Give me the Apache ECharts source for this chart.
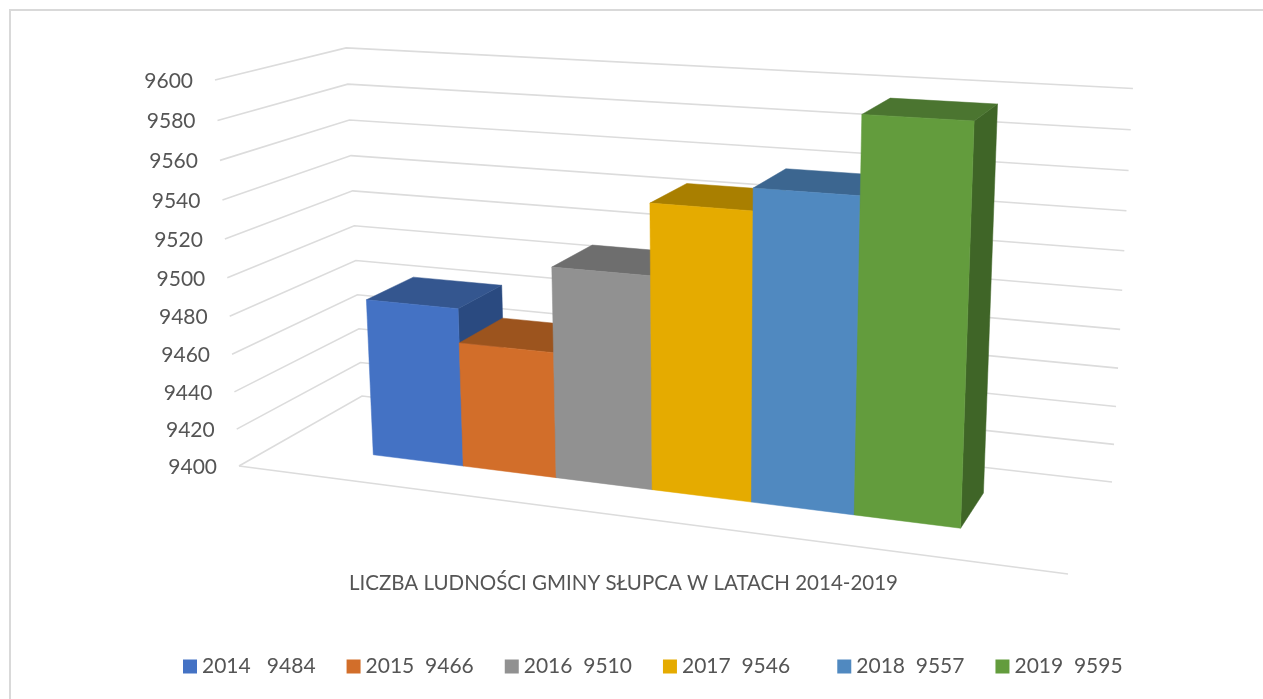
<!DOCTYPE html>
<html><head><meta charset="utf-8">
<style>html,body{margin:0;padding:0;background:#fff}#c{width:1263px;height:699px}</style>
<script src="https://cdn.jsdelivr.net/npm/echarts@6/dist/echarts.min.js"></script>
</head><body><div id="c"></div>
<script>
const years = ['2014','2015','2016','2017','2018','2019'];
const populations = [9484,9466,9510,9546,9557,9595];
const legendNames = ['2014   9484','2015  9466','2016  9510','2017  9546   ','2018  9557','2019  9595'];
const valueTicks = [9400,9420,9440,9460,9480,9500,9520,9540,9560,9580,9600];
const titleText = 'LICZBA LUDNOŚCI GMINY SŁUPCA W LATACH 2014-2019';
const frontColors = ['#4472C4','#D26E2A','#919191','#E5AB00','#5089C0','#639C3D'];
const topColors   = ['#34568F','#9C541E','#6E6E6E','#A97F00','#3C6690','#4B7530'];
const sideColors  = ['#2A4A80','#8A4A1A','#5E5E5E','#8F6C00','#335877','#3F6527'];

// Perspective camera of the 3D box: unit box (u across, v up, d depth) -> screen.
const CAM = {a:686.6,b:-34.44,c:163.96,e:239, f:31.46,g:-389.8,h:-25.2,i:466, p:-0.13335,q:-0.0485,r:0.11316};
const project = (u,v,d) => {
  const w = CAM.p*u + CAM.q*v + CAM.r*d + 1;
  return [(CAM.a*u+CAM.b*v+CAM.c*d+CAM.e)/w, (CAM.f*u+CAM.g*v+CAM.h*d+CAM.i)/w];
};
const D_FRONT = 0.305, D_BACK = 0.704;
// band units: bars fill x from -0.5 to 5.5; the box walls lie outside this
const X_MIN = -1.58, X_MAX = 6.605;
const LINE = '#DCDCDC', TEXT = '#555555', FONT = 'Lato';

const toBox = (api, params, x, val) => {
  const p = api.coord([x, val]), cs = params.coordSys;
  return [(p[0]-cs.x)/cs.width, 1-(p[1]-cs.y)/cs.height];
};
const poly = (pts, fill) => ({type:'polygon', shape:{points:pts},
  style:{fill, stroke:fill, lineWidth:0.5}});

const renderBar = (params, api) => {
  const i = api.value(0), val = api.value(1);
  const [u0,v1] = toBox(api, params, i-0.5, val);
  const [u1,v0] = toBox(api, params, i+0.5, valueTicks[0]);
  const idx = params.seriesIndex - 1;
  return {type:'group', children:[
    poly([project(u1,v0,D_FRONT),project(u1,v0,D_BACK),project(u1,v1,D_BACK),project(u1,v1,D_FRONT)], sideColors[idx]),
    poly([project(u0,v1,D_FRONT),project(u1,v1,D_FRONT),project(u1,v1,D_BACK),project(u0,v1,D_BACK)], topColors[idx]),
    poly([project(u0,v0,D_FRONT),project(u1,v0,D_FRONT),project(u1,v1,D_FRONT),project(u0,v1,D_FRONT)], frontColors[idx])
  ]};
};
const renderWall = (params, api) => {
  const val = api.value(1);
  const [,v] = toBox(api, params, X_MIN, val);
  const pts = [project(0,v,0),project(0,v,1),project(1,v,1)];
  const children = [{type:'polyline', shape:{points:pts}, style:{stroke:LINE, lineWidth:1.6, fill:null}}];
  if (val === valueTicks[0]) children.push({type:'line',
    shape:{x1:pts[0][0],y1:pts[0][1],x2:project(1,v,0)[0],y2:project(1,v,0)[1]},
    style:{stroke:LINE, lineWidth:1.6}});
  children.push({type:'text', x:pts[0][0]-22, y:pts[0][1]+1,
    style:{text:String(val), align:'right', verticalAlign:'middle', fill:TEXT, font:'21px '+FONT}});
  return {type:'group', children};
};

const barSeries = years.map((y,i)=>({
  name: legendNames[i], type:'custom', renderItem:renderBar, silent:true,
  itemStyle:{color:frontColors[i]}, animation:false, clip:false,
  encode:{x:0,y:1}, data:[[i,populations[i]]]
}));

const chart = echarts.init(document.getElementById('c'), null, {renderer:'canvas'});
chart.setOption({
  animation:false, backgroundColor:'#fff',
  title:{text:titleText, left:349, top:573, padding:0,
    textStyle:{fontFamily:FONT, fontSize:20.5, fontWeight:'normal', color:TEXT}},
  legend:{left:183, top:656, padding:0, itemWidth:14, itemHeight:14, itemGap:31, icon:'rect',
    data:legendNames, selectedMode:false,
    textStyle:{fontFamily:FONT, fontSize:21, color:TEXT}},
  grid:{left:100, right:100, top:100, bottom:100, show:false},
  xAxis:{type:'value', min:X_MIN, max:X_MAX, show:false},
  yAxis:{type:'value', min:valueTicks[0], max:valueTicks[valueTicks.length-1], interval:20, show:false},
  graphic:[
    {type:'polyline', shape:{points:[[10,699],[10,10],[1263,10]]}, style:{stroke:'#D9D9D9', lineWidth:2, fill:null}, silent:true}
  ],
  series:[{
    type:'custom', renderItem:renderWall, silent:true, animation:false, clip:false,
    encode:{x:0,y:1}, data:valueTicks.map(t=>[X_MIN,t]), z:1
  }].concat(barSeries.map(s=>Object.assign(s,{z:2})))
});
</script></body></html>
